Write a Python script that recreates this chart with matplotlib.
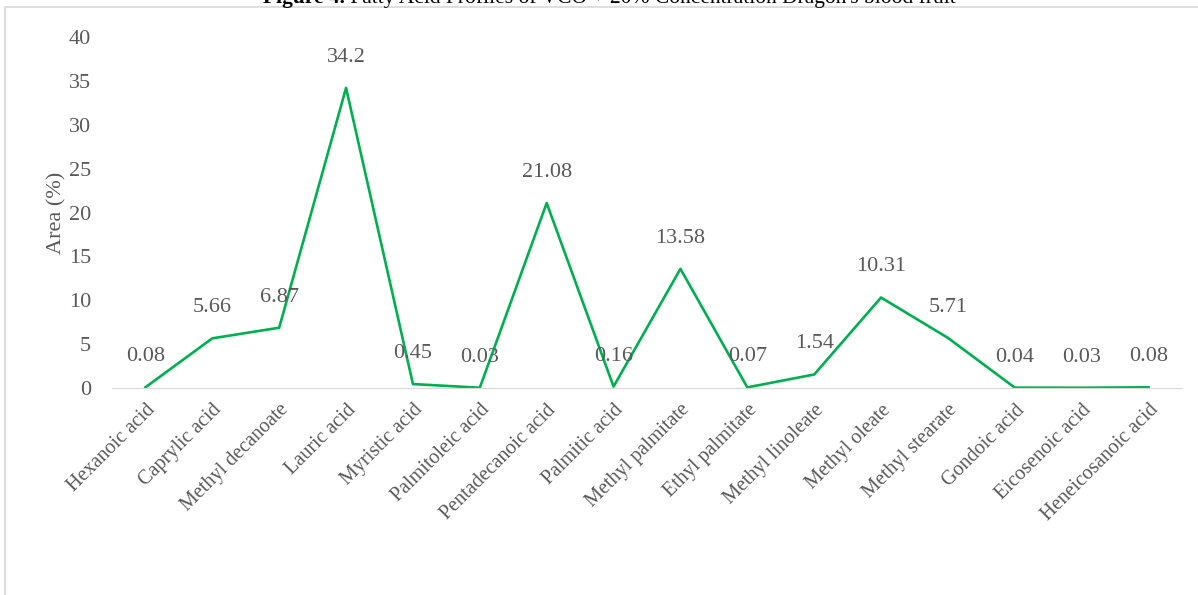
import matplotlib.pyplot as plt
from matplotlib.patches import Rectangle

acids = ["Hexanoic acid", "Caprylic acid", "Methyl decanoate", "Lauric acid",
         "Myristic acid", "Palmitoleic acid", "Pentadecanoic acid", "Palmitic acid",
         "Methyl palmitate", "Ethyl palmitate", "Methyl linoleate", "Methyl oleate",
         "Methyl stearate", "Gondoic acid", "Eicosenoic acid", "Heneicosanoic acid"]
area = [0.08, 5.66, 6.87, 34.2, 0.45, 0.03, 21.08, 0.16,
        13.58, 0.07, 1.54, 10.31, 5.71, 0.04, 0.03, 0.08]
yticks = [0, 5, 10, 15, 20, 25, 30, 35, 40]

plt.rcParams['font.family'] = ['Liberation Serif', 'DejaVu Serif']
grey = '#595959'

fig = plt.figure(figsize=(11.98, 5.95), dpi=100)
# light chart-area border
fig.patches.append(Rectangle((5 / 1198, -0.1), 1.2, 1.1 - 7 / 595,
                             transform=fig.transFigure, fill=False,
                             edgecolor='#d9d9d9', linewidth=1.2))

ax = fig.add_axes([112 / 1198, 1 - 388 / 595, 1070 / 1198, 351 / 595])
x = range(len(acids))
ax.plot(x, area, color='#00b050', linewidth=1.9)

for xi, v in zip(x, area):
    ax.annotate(f"{v:g}", xy=(xi, v), xytext=(0, 22), textcoords='offset points',
                ha='center', va='center', fontsize=16, color=grey)

ax.set_xlim(-0.5, len(acids) - 0.5)
ax.set_ylim(0, 40)
ax.set_yticks(yticks)
ax.set_xticks(list(x))
ax.set_xticklabels(acids, rotation=45, ha='right', rotation_mode='anchor', fontsize=14.5)
ax.tick_params(axis='both', length=0, labelcolor=grey)
ax.tick_params(axis='y', labelsize=16, pad=15)
ax.tick_params(axis='x', pad=9)
for s in ['top', 'right', 'left']:
    ax.spines[s].set_visible(False)
ax.spines['bottom'].set_color('#d9d9d9')
ax.set_ylabel("Area (%)", fontsize=16, color=grey, labelpad=2)

# title, partly cut off at the top like the source
t1 = fig.text(263 / 1198, 1 - 3 / 595, "Figure 4.", fontsize=15.5, fontweight='bold',
              ha='left', va='baseline', color='black')
fig.add_artist(plt.Annotation(
    " Fatty Acid Profiles of VCO + 20% Concentration Dragon's blood fruit",
    xy=(1, 0), xycoords=t1, va='bottom', ha='left', fontsize=15.5, color='black'))

fig.savefig("out.png", dpi=100)
